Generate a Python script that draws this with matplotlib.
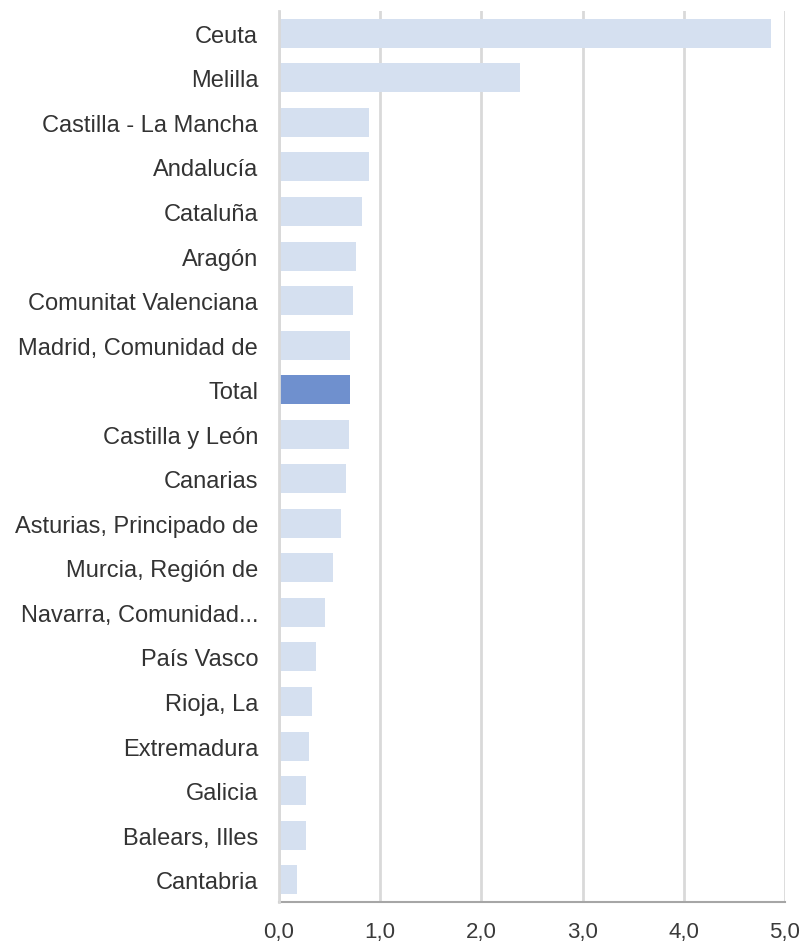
import matplotlib
matplotlib.use("Agg")
import matplotlib.pyplot as plt

categories = ["Ceuta", "Melilla", "Castilla - La Mancha", "Andalucía", "Cataluña",
              "Aragón", "Comunitat Valenciana", "Madrid, Comunidad de", "Total",
              "Castilla y León", "Canarias", "Asturias, Principado de",
              "Murcia, Región de", "Navarra, Comunidad...", "País Vasco", "Rioja, La",
              "Extremadura", "Galicia", "Balears, Illes", "Cantabria"]
values = [4.86, 2.38, 0.89, 0.89, 0.82, 0.76, 0.73, 0.70, 0.70, 0.69, 0.66,
          0.61, 0.53, 0.45, 0.37, 0.33, 0.30, 0.27, 0.27, 0.18]
xticks = [0, 1, 2, 3, 4, 5]
xticklabels = ["0,0", "1,0", "2,0", "3,0", "4,0", "5,0"]

plt.rcParams['font.family'] = ['Liberation Sans', 'DejaVu Sans']

fig = plt.figure(figsize=(8.06, 9.45), dpi=100)
ax = fig.add_axes([279/806, 1 - 903/945, (785-279)/806, (903-12)/945])

colors = ["#6F90CE" if c == "Total" else "#D5E0F0" for c in categories]
y = list(range(len(categories)))
ax.barh(y, values, height=0.65, color=colors, zorder=3)

ax.set_ylim(len(categories) - 0.5, -0.5)
ax.set_xlim(0, 5)
ax.set_xticks(xticks)
ax.set_xticklabels(xticklabels, fontsize=16, color="#3A3A3A")
ax.set_yticks(y)
ax.set_yticklabels(categories, fontsize=17, color="#333333")
ax.tick_params(axis='both', length=0)
ax.tick_params(axis='y', pad=15)
ax.tick_params(axis='x', pad=14)

ax.grid(axis='x', color="#D9D9D9", linewidth=2, zorder=0)
for s in ["top", "right"]:
    ax.spines[s].set_visible(False)
ax.spines["left"].set_color("#D9D9D9")
ax.spines["left"].set_linewidth(2)
ax.spines["left"].set_zorder(4)
ax.spines["bottom"].set_color("#A6A6A6")
ax.spines["bottom"].set_linewidth(1.5)

fig.savefig("out.png", dpi=100)
